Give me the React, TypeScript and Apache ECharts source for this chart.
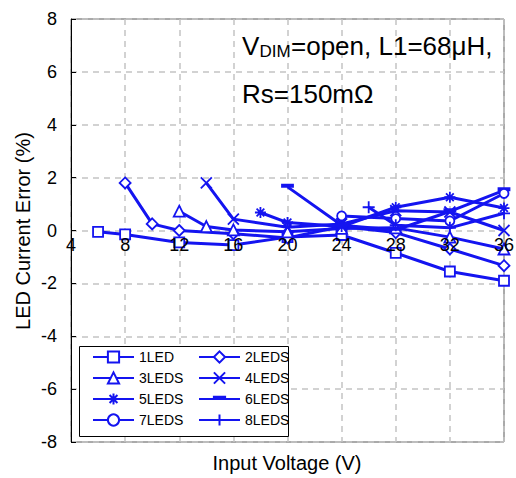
import React, { useEffect, useRef } from "react";
import * as echarts from "echarts";

const BLUE = "#1414f0";
const FONT = "Liberation Sans, Arial, Helvetica, sans-serif";

const xMin = 4;
const xMax = 36;
const xStep = 4;
const yMin = -8;
const yMax = 8;
const yStep = 2;

const led1: number[][] = [[6, -0.05], [8, -0.15], [12, -0.45], [16, -0.55], [20, -0.25], [24, -0.17], [28, -0.85], [32, -1.55], [36, -1.9]];
const led2: number[][] = [[8, 1.8], [10, 0.25], [12, 0.0], [16, -0.12], [20, -0.28], [24, 0.15], [28, -0.08], [32, -0.7], [36, -1.33]];
const led3: number[][] = [[12, 0.73], [14, 0.15], [16, 0.02], [20, -0.05], [24, 0.08], [28, 0.1], [32, -0.25], [36, -0.7]];
const led4: number[][] = [[14, 1.8], [16, 0.43], [20, 0.12], [24, 0.25], [28, 0.75], [32, 0.7], [36, 0.0]];
const led5: number[][] = [[18, 0.68], [20, 0.3], [24, 0.15], [28, 0.88], [32, 1.26], [36, 0.85]];
const led6: number[][] = [[20, 1.65], [24, 0.2], [28, 0.02], [32, 0.72], [36, 1.52]];
const led7: number[][] = [[24, 0.55], [28, 0.45], [32, 0.36], [36, 1.4]];
const led8: number[][] = [[26, 0.88], [28, 0.2], [32, 0.1], [36, 0.65]];

const names = ["1LED", "2LEDS", "3LEDS", "4LEDS", "5LEDS", "6LEDS", "7LEDS", "8LEDS"];

const SYM_X = "path://M0,0L10,10M10,0L0,10";
const SYM_AST = "path://M5,0L5,10M1.5,1.5L8.5,8.5M8.5,1.5L1.5,8.5M0,5L10,5";
const SYM_PLUS = "path://M5,0L5,10M0,5L10,5";
const SYM_DASH = "path://M0,0M10,10M0,3L10,3L10,5L0,5Z";

const GRID_TOP = 19;
const GRID_BOTTOM = 36;
const CHART_H = 478;

function mkSeries(name: string, data: number[][], symbol: string, size: number, filled = false) {
  return {
    name,
    type: "line",
    xAxisIndex: 0,
    data,
    symbol,
    symbolSize: size,
    showSymbol: true,
    lineStyle: { color: BLUE, width: 3 },
    itemStyle: { color: filled ? BLUE : "#fff", borderColor: BLUE, borderWidth: 1.8 },
    emphasis: { disabled: true },
    z: 2,
  };
}

export default function App() {
  const ref = useRef<HTMLDivElement>(null);
  useEffect(() => {
    document.body.style.margin = "0";
    const chart = echarts.init(ref.current!, null, { renderer: "svg" });
    const splitLine = { show: true, lineStyle: { color: "#c4c4c4", width: 1.5, type: [6, 5] } };
    const plotH = CHART_H - GRID_TOP - GRID_BOTTOM;
    const zeroOffset = -(plotH * (0 - yMin)) / (yMax - yMin);
    const legendCommon = {
      orient: "vertical",
      top: 350,
      padding: 0,
      itemWidth: 41,
      itemHeight: 14,
      itemGap: 7,
      selectedMode: false,
      textStyle: { fontSize: 14, color: "#000", fontFamily: FONT },
      z: 6,
    };
    chart.setOption({
      animation: false,
      backgroundColor: "#fff",
      textStyle: { fontFamily: FONT },
      grid: {
        left: 71,
        right: 12,
        top: GRID_TOP,
        bottom: GRID_BOTTOM,
        show: true,
        borderColor: "#555",
        borderWidth: 1,
        outerBoundsMode: "none",
      },
      xAxis: [
        {
          type: "value",
          position: "bottom",
          min: xMin,
          max: xMax,
          interval: xStep,
          axisLine: { show: false, onZero: false },
          axisTick: { show: false },
          axisLabel: { show: false },
          splitLine,
        },
        {
          type: "value",
          position: "bottom",
          offset: zeroOffset,
          min: xMin,
          max: xMax,
          interval: xStep,
          z: 8,
          axisLine: { show: false, onZero: false },
          axisTick: { show: false },
          axisLabel: { fontSize: 18, color: "#000", margin: 5, showMinLabel: true, showMaxLabel: true, fontFamily: FONT },
          splitLine: { show: false },
        },
      ],
      yAxis: {
        type: "value",
        min: yMin,
        max: yMax,
        interval: yStep,
        axisLine: { show: true, onZero: false, lineStyle: { color: "#000", width: 1 } },
        axisTick: { show: true, inside: true, length: 5, lineStyle: { color: "#000" } },
        axisLabel: { fontSize: 18, color: "#000", margin: 14, fontFamily: FONT },
        splitLine,
      },
      legend: [
        { ...legendCommon, left: 92, data: [names[0], names[2], names[4], names[6]] },
        { ...legendCommon, left: 198, data: [names[1], names[3], names[5], names[7]] },
      ],
      graphic: [
        {
          type: "rect",
          z: 3,
          shape: { x: 79.5, y: 346.5, width: 209, height: 90 },
          style: { fill: "#fff", stroke: "#000", lineWidth: 1 },
        },
        {
          type: "text",
          z: 5,
          x: 242,
          y: 46,
          style: { text: "V", fontSize: 26, fontFamily: FONT, fill: "#000", align: "left", verticalAlign: "middle" },
        },
        {
          type: "text",
          z: 5,
          x: 259.5,
          y: 51,
          style: { text: "DIM", fontSize: 17, fontFamily: FONT, fill: "#000", align: "left", verticalAlign: "middle" },
        },
        {
          type: "text",
          z: 5,
          x: 291,
          y: 46,
          style: { text: "=open, L1=68μH,", fontSize: 26, fontFamily: FONT, fill: "#000", align: "left", verticalAlign: "middle" },
        },
        {
          type: "text",
          z: 5,
          x: 242,
          y: 94,
          style: { text: "Rs=150mΩ", fontSize: 26, fontFamily: FONT, fill: "#000", align: "left", verticalAlign: "middle" },
        },
        {
          type: "text",
          z: 5,
          x: 287,
          y: 463,
          style: { text: "Input Voltage (V)", fontSize: 20, fontFamily: FONT, fill: "#000", align: "center", verticalAlign: "middle" },
        },
        {
          type: "text",
          z: 5,
          x: 23,
          y: 231,
          rotation: Math.PI / 2,
          style: { text: "LED Current Error (%)", fontSize: 20, fontFamily: FONT, fill: "#000", align: "center", verticalAlign: "middle" },
        },
      ],
      series: [
        mkSeries(names[0], led1, "rect", 10),
        mkSeries(names[1], led2, "diamond", 11),
        mkSeries(names[2], led3, "triangle", 11),
        mkSeries(names[3], led4, SYM_X, 11),
        mkSeries(names[4], led5, SYM_AST, 11),
        mkSeries(names[5], led6, SYM_DASH, 11, true),
        mkSeries(names[6], led7, "circle", 9),
        mkSeries(names[7], led8, SYM_PLUS, 12),
      ],
    });
    return () => chart.dispose();
  }, []);
  return <div ref={ref} style={{ width: 516, height: 478 }} />;
}
